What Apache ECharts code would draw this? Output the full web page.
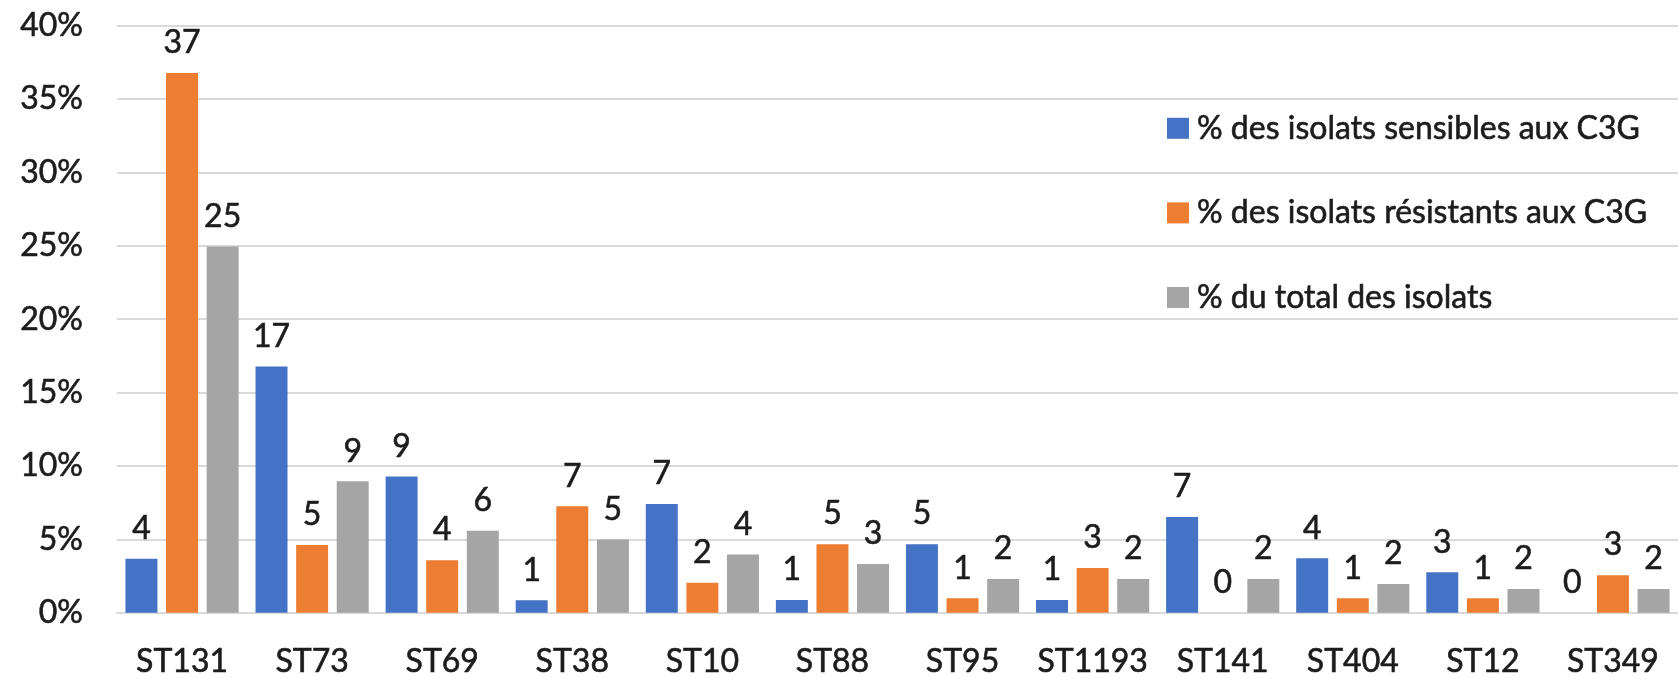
<!DOCTYPE html>
<html>
<head>
<meta charset="utf-8">
<script src="https://cdn.jsdelivr.net/npm/echarts@6/dist/echarts.min.js"></script>
<style>
  html, body { margin: 0; padding: 0; background: #fff; }
  #chart { width: 1678px; height: 678px; }
</style>
</head>
<body>
<div id="chart"></div>
<script>
// Sequence types (ST) on the x axis
const categories = ['ST131', 'ST73', 'ST69', 'ST38', 'ST10', 'ST88', 'ST95', 'ST1193', 'ST141', 'ST404', 'ST12', 'ST349'];

// Series names
const seriesNames = [
  '% des isolats sensibles aux C3G',
  '% des isolats résistants aux C3G',
  '% du total des isolats'
];

// Percentages per sequence type
const sensibles  = [3.67, 16.77, 9.28, 0.85, 7.4, 0.87, 4.67, 0.87, 6.52, 3.71, 2.75, 0];
const resistants = [36.77, 4.61, 3.58, 7.25, 2.04, 4.67, 0.98, 3.04, 0, 0.98, 0.98, 2.56];
const total      = [24.96, 8.96, 5.58, 4.99, 3.96, 3.32, 2.29, 2.29, 2.29, 1.95, 1.62, 1.62];

// Y axis range / ticks
const yMin = 0, yMax = 40, yStep = 5;

const colors = ['#4472C4', '#ED7D31', '#A5A5A5'];
const FONT = 'Lato';
const FS = 32;
const textColor = '#1c1c1c';

// shared text look: slightly thickened strokes
const textLook = {
  fontFamily: FONT,
  fontSize: FS,
  color: textColor,
  textBorderColor: textColor,
  textBorderWidth: 0.6
};

const chart = echarts.init(document.getElementById('chart'), null, { renderer: 'canvas' });

function barSeries(name, data, color) {
  return {
    name: name,
    type: 'bar',
    data: data,
    itemStyle: { color: color },
    barGap: '27%',
    barCategoryGap: '13%',
    label: Object.assign({
      show: true,
      position: 'top',
      distance: 14,
      formatter: p => String(Math.round(p.value))
    }, textLook),
    emphasis: { disabled: true }
  };
}

chart.setOption({
  animation: false,
  textStyle: { fontFamily: FONT },
  grid: { left: 117, right: 0, top: 25.7, bottom: 62.3, containLabel: false },
  legend: {
    orient: 'vertical',
    left: 1162,
    top: 107,
    icon: 'rect',
    itemWidth: 22,
    itemHeight: 21,
    itemGap: 52,
    textStyle: Object.assign({
      lineHeight: FS,
      padding: [0, 0, 0, 3]
    }, textLook),
    data: seriesNames
  },
  xAxis: {
    type: 'category',
    data: categories,
    axisLine: { show: true, lineStyle: { color: '#d9d9d9', width: 2 } },
    axisTick: { show: false },
    axisLabel: Object.assign({
      margin: 33,
      interval: 0
    }, textLook)
  },
  yAxis: {
    type: 'value',
    min: yMin,
    max: yMax,
    interval: yStep,
    axisLine: { show: false },
    axisTick: { show: false },
    splitLine: { lineStyle: { color: '#d9d9d9', width: 2 } },
    axisLabel: Object.assign({
      margin: 34,
      formatter: '{value}%'
    }, textLook)
  },
  series: [
    barSeries(seriesNames[0], sensibles, colors[0]),
    barSeries(seriesNames[1], resistants, colors[1]),
    barSeries(seriesNames[2], total, colors[2])
  ]
});
</script>
</body>
</html>
